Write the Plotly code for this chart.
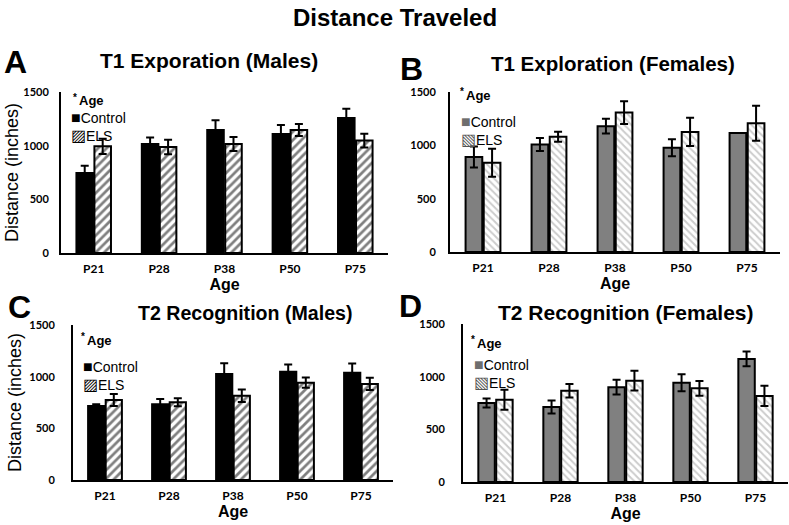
import plotly.graph_objects as go

ages = ["P21", "P28", "P38", "P50", "P75"]

# Panel A: T1 Exploration (Males)
a_ctrl = [745, 1016, 1146, 1109, 1258]
a_ctrl_err = [69, 59, 90, 84, 87]
a_els = [994, 988, 1016, 1146, 1047]
a_els_err = [71, 68, 65, 56, 65]

# Panel B: T1 Exploration (Females)
b_ctrl = [890, 1008, 1180, 978, 1115]
b_ctrl_err = [98, 60, 70, 80, 0]
b_els = [837, 1080, 1307, 1126, 1207]
b_els_err = [132, 47, 106, 133, 163]

# Panel C: T2 Recognition (Males)
c_ctrl = [716, 732, 1025, 1047, 1037]
c_ctrl_err = [16, 52, 104, 70, 90]
c_els = [774, 752, 815, 942, 930]
c_els_err = [58, 38, 60, 50, 60]

# Panel D: T2 Recognition (Females)
d_ctrl = [750, 712, 900, 942, 1168]
d_ctrl_err = [42, 61, 70, 80, 70]
d_els = [781, 866, 962, 890, 817]
d_els_err = [94, 64, 93, 70, 96]

y_ticks = [0, 500, 1000, 1500]
series_names = ["Control", "ELS"]

W, H = 789, 525
TITLE_FONT = "Liberation Sans, Arial, sans-serif"
TICK_FONT = "Lato, Liberation Sans, sans-serif"

def px_x(v):
    return v / W

def px_y(v):
    return 1 - v / H

panels = [
    dict(ctrl=a_ctrl, ce=a_ctrl_err, els=a_els, ee=a_els_err,
         x=(61, 388), y=(253, 92), male=True, xa="x", ya="y",
         title="T1 Exporation (Males)", tsize=21, tpos=(209, 60), letter="A", lpos=(16, 62),
         age=(71, 101), leg=(69, 127), ystand=8, ytitle=0),
    dict(ctrl=b_ctrl, ce=b_ctrl_err, els=b_els, ee=b_els_err,
         x=(450, 780), y=(252, 92), male=False, xa="x2", ya="y2",
         title="T1 Exploration (Females)", tsize=20.5, tpos=(613, 63), letter="B", lpos=(412, 69),
         age=(458, 96), leg=(459, 131), ystand=10, ytitle=None),
    dict(ctrl=c_ctrl, ce=c_ctrl_err, els=c_els, ee=c_els_err,
         x=(73, 393), y=(480, 325), male=True, xa="x3", ya="y3",
         title="T2 Recognition (Males)", tsize=19.6, tpos=(245, 313), letter="C", lpos=(19, 307),
         age=(79, 340), leg=(81, 375), ystand=14, ytitle=3),
    dict(ctrl=d_ctrl, ce=d_ctrl_err, els=d_els, ee=d_els_err,
         x=(463, 788), y=(482, 324), male=False, xa="x4", ya="y4",
         title="T2 Recognition (Females)", tsize=21, tpos=(626, 312), letter="D", lpos=(410, 306),
         age=(469, 343), leg=(472, 373), ystand=14, ytitle=None),
]

fig = go.Figure()
annotations = []
layout_extra = {}

for i, p in enumerate(panels):
    sfx = "" if i == 0 else str(i + 1)
    if p["male"]:
        ctrl_color = "#000000"
        pat = dict(shape="/", fgcolor="#000000", bgcolor="#ffffff", size=6, solidity=0.45)
        ctrl_glyph, els_glyph = ("■", "#000000"), ("▨", "#000000")
    else:
        ctrl_color = "#808080"
        pat = dict(shape="\\", fgcolor="#9a9a9a", bgcolor="#ffffff", size=5, solidity=0.4)
        ctrl_glyph, els_glyph = ("■", "#6e6e6e"), ("▧", "#555555")
    err_style = dict(type="data", visible=True, color="#000000", thickness=2, width=4)
    fig.add_trace(go.Bar(
        x=ages, y=p["ctrl"], name=series_names[0],
        error_y=dict(array=p["ce"], **err_style),
        marker=dict(color=ctrl_color, line=dict(color="#000000", width=2)),
        xaxis=p["xa"], yaxis=p["ya"], showlegend=False,
    ))
    fig.add_trace(go.Bar(
        x=ages, y=p["els"], name=series_names[1],
        error_y=dict(array=p["ee"], **err_style),
        marker=dict(color="#ffffff", pattern=pat, line=dict(color="#000000", width=2)),
        xaxis=p["xa"], yaxis=p["ya"], showlegend=False,
    ))
    layout_extra["xaxis" + sfx] = dict(
        domain=[px_x(p["x"][0]), px_x(p["x"][1])],
        anchor="y" + sfx, automargin=False,
        showline=True, linecolor="#000000", linewidth=2,
        showgrid=False, zeroline=False, ticks="",
        tickfont=dict(family=TICK_FONT, size=12, color="#000000", weight="bold"),
        ticklabelstandoff=4,
        title=dict(text="Age", standoff=0,
                   font=dict(family=TITLE_FONT, size=16, color="#000000", weight="bold")),
    )
    yax = dict(
        domain=[px_y(p["y"][0]), px_y(p["y"][1])],
        anchor="x" + sfx, automargin=False,
        range=[0, 1500], tickvals=y_ticks,
        showline=True, linecolor="#000000", linewidth=2,
        showgrid=False, zeroline=False, ticks="",
        ticklabelstandoff=p["ystand"],
        tickfont=dict(family=TICK_FONT, size=11, color="#000000", weight="bold"),
    )
    if p["ytitle"] is not None:
        yax["title"] = dict(text="Distance (inches)", standoff=p["ytitle"],
                            font=dict(family=TITLE_FONT, size=18, color="#000000"))
    layout_extra["yaxis" + sfx] = yax

    annotations.append(dict(
        text="<b>" + p["title"] + "</b>", x=px_x(p["tpos"][0]), y=px_y(p["tpos"][1]),
        xref="paper", yref="paper", xanchor="center", yanchor="middle", showarrow=False,
        font=dict(family=TITLE_FONT, size=p["tsize"], color="#000000"),
    ))
    annotations.append(dict(
        text="<b>" + p["letter"] + "</b>", x=px_x(p["lpos"][0]), y=px_y(p["lpos"][1]),
        xref="paper", yref="paper", xanchor="center", yanchor="middle", showarrow=False,
        font=dict(family=TITLE_FONT, size=32, color="#000000"),
    ))
    ax_, ay_ = p["age"]
    annotations.append(dict(
        text="<b>*</b>", x=px_x(ax_), y=px_y(ay_ - 4),
        xref="paper", yref="paper", xanchor="left", yanchor="middle", showarrow=False,
        font=dict(family=TITLE_FONT, size=10, color="#000000"),
    ))
    annotations.append(dict(
        text="<b>Age</b>", x=px_x(ax_ + 6), y=px_y(ay_),
        xref="paper", yref="paper", xanchor="left", yanchor="middle", showarrow=False,
        font=dict(family=TITLE_FONT, size=13, color="#000000"),
    ))
    lx, ly = p["leg"]
    lines = []
    for (glyph, gcol), name in [(ctrl_glyph, series_names[0]), (els_glyph, series_names[1])]:
        lines.append(f'<span style="color:{gcol};font-size:16px">{glyph}</span>{name}')
    annotations.append(dict(
        text="<br>".join(lines), align="left",
        x=px_x(lx), y=px_y(ly),
        xref="paper", yref="paper", xanchor="left", yanchor="middle", showarrow=False,
        font=dict(family=TITLE_FONT, size=14, color="#000000"),
    ))

annotations.append(dict(
    text="<b>Distance Traveled</b>", x=0.5, y=px_y(17),
    xref="paper", yref="paper", xanchor="center", yanchor="middle", showarrow=False,
    font=dict(family=TITLE_FONT, size=24, color="#000000"),
))

fig.update_layout(
    width=W, height=H,
    margin=dict(l=0, r=0, t=0, b=0),
    paper_bgcolor="#ffffff", plot_bgcolor="#ffffff",
    barmode="group", bargap=0.45, bargroupgap=0.08,
    showlegend=False,
    annotations=annotations,
    **layout_extra,
)

fig.write_html("out.html", config={"displayModeBar": False},
               post_script="document.body.style.margin='0px';")
